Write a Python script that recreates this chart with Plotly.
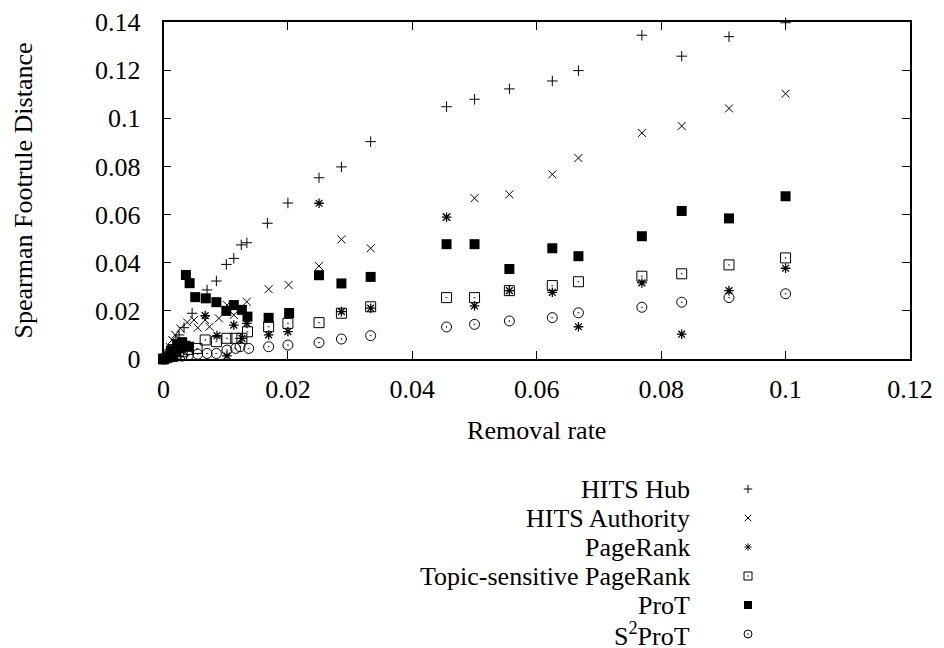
import plotly.graph_objects as go

# ---------------- data ----------------
hub_x = [0, 0.0005, 0.001, 0.0015, 0.002, 0.0025, 0.0033, 0.0046, 0.007, 0.0085, 0.0101, 0.0113,
         0.0125, 0.0134, 0.0167, 0.02, 0.025, 0.0286, 0.0333, 0.0455, 0.05, 0.0556, 0.0625,
         0.0667, 0.0769, 0.0833, 0.0909, 0.1]
hub_y = [0, 0.002, 0.004, 0.006, 0.008, 0.010, 0.013, 0.019, 0.0287, 0.0324, 0.0393, 0.0418,
         0.0474, 0.0483, 0.0564, 0.0648, 0.0753, 0.0798, 0.0903, 0.1048, 0.1079, 0.1122, 0.1155,
         0.1198, 0.1345, 0.1258, 0.1339, 0.1397]

auth_x = [0, 0.0005, 0.001, 0.0014, 0.0019, 0.0027, 0.0038, 0.0049, 0.0055, 0.0067, 0.0074,
          0.0089, 0.0102, 0.0113, 0.0134, 0.0169, 0.0201, 0.025, 0.0286, 0.0333, 0.0455, 0.05,
          0.0556, 0.0625, 0.0667, 0.0769, 0.0833, 0.0909, 0.1]
auth_y = [0, 0.0025, 0.005, 0.0079, 0.010, 0.0127, 0.0152, 0.0162, 0.013, 0.0162, 0.0134,
          0.0169, 0.0224, 0.0183, 0.0238, 0.0290, 0.0308, 0.0386, 0.0497, 0.046, 0.059, 0.0668,
          0.0684, 0.0767, 0.0835, 0.0939, 0.0968, 0.1041, 0.1102]

pr_x = [0, 0.0005, 0.001, 0.002, 0.003, 0.004, 0.0067, 0.0086, 0.0102, 0.0113, 0.0126, 0.0134,
        0.0169, 0.02, 0.025, 0.0286, 0.0333, 0.0455, 0.05, 0.0556, 0.0625, 0.0667, 0.0769,
        0.0833, 0.0909, 0.1]
pr_y = [0, 0.001, 0.002, 0.004, 0.006, 0.005, 0.0180, 0.0097, 0.0013, 0.0141, 0.0086, 0.0148,
        0.0100, 0.0114, 0.0647, 0.0197, 0.0211, 0.0589, 0.0221, 0.0284, 0.0277, 0.0134, 0.0316,
        0.0103, 0.0284, 0.0377]

tspr_x = [0, 0.001, 0.002, 0.003, 0.004, 0.0054, 0.0067, 0.0085, 0.0102, 0.0116, 0.0126, 0.0135,
          0.0169, 0.02, 0.025, 0.0286, 0.0333, 0.0455, 0.05, 0.0556, 0.0625, 0.0667, 0.0769,
          0.0833, 0.0909, 0.1]
tspr_y = [0, 0.001, 0.002, 0.003, 0.004, 0.0044, 0.0079, 0.0072, 0.0086, 0.0086, 0.0086, 0.0113,
          0.0134, 0.0148, 0.0151, 0.019, 0.0217, 0.0255, 0.0255, 0.0284, 0.0305, 0.0321, 0.0344,
          0.0354, 0.0391, 0.042]

prot_x = [0, 0.0005, 0.001, 0.0012, 0.0015, 0.002, 0.0022, 0.0027, 0.003, 0.0035, 0.0041,
          0.0036, 0.0042, 0.0051, 0.0068, 0.0085, 0.0101, 0.0113, 0.0126, 0.0135, 0.0169,
          0.0202, 0.025, 0.0286, 0.0333, 0.0455, 0.05, 0.0556, 0.0625, 0.0667, 0.0769, 0.0833,
          0.0909, 0.1]
prot_y = [0, 0.0005, 0.001, 0.0035, 0.002, 0.003, 0.006, 0.0044, 0.007, 0.0055, 0.0051,
          0.0349, 0.0315, 0.0257, 0.0252, 0.0236, 0.0200, 0.0224, 0.0204, 0.0176, 0.0171,
          0.0191, 0.0348, 0.0314, 0.0341, 0.0477, 0.0477, 0.0374, 0.046, 0.0427, 0.051, 0.0615,
          0.0584, 0.0676]

s2_x = [0, 0.001, 0.002, 0.003, 0.004, 0.0055, 0.007, 0.0085, 0.0102, 0.0116, 0.0123, 0.0137,
        0.0169, 0.02, 0.025, 0.0286, 0.0333, 0.0455, 0.05, 0.0556, 0.0625, 0.0667, 0.0769,
        0.0833, 0.0909, 0.1]
s2_y = [0, 0.0005, 0.001, 0.0012, 0.0015, 0.002, 0.0023, 0.0023, 0.0037, 0.0044, 0.0051, 0.0044,
        0.0051, 0.0058, 0.0068, 0.0083, 0.0097, 0.0133, 0.0144, 0.0158, 0.0172, 0.0192, 0.0215,
        0.0236, 0.0255, 0.0271]

series_names = ["HITS Hub", "HITS Authority", "PageRank", "Topic-sensitive PageRank",
                "ProT", "S<sup>2</sup>ProT"]
x_ticks = [0, 0.02, 0.04, 0.06, 0.08, 0.1, 0.12]
y_ticks = [0, 0.02, 0.04, 0.06, 0.08, 0.1, 0.12, 0.14]

# ---------------- styling ----------------
W, H = 944, 648
FONT = "Liberation Serif"
FS = 26
PL, PR, PT, PB = 163.5, 910, 22, 359   # plot box in pixels

styles = [
    dict(symbol="cross-thin-open", size=7.5, line=dict(width=1, color="black"), color="black"),
    dict(symbol="x-thin-open", size=8, line=dict(width=1, color="black"), color="black"),
    dict(symbol="asterisk-open", size=8, line=dict(width=1.3, color="black"), color="black"),
    dict(symbol="square-open-dot", size=10, line=dict(width=1, color="black"), color="black"),
    dict(symbol="square", size=10, line=dict(width=0), color="black"),
    dict(symbol="circle-open-dot", size=10, line=dict(width=1, color="black"), color="black"),
]
legend_styles = [
    dict(symbol="cross-thin-open", size=6, line=dict(width=1, color="black"), color="black"),
    dict(symbol="x-thin-open", size=6.5, line=dict(width=1, color="black"), color="black"),
    dict(symbol="asterisk-open", size=6, line=dict(width=1, color="black"), color="black"),
    dict(symbol="square-open-dot", size=8, line=dict(width=1, color="black"), color="black"),
    dict(symbol="square", size=8, line=dict(width=0), color="black"),
    dict(symbol="circle-open-dot", size=8, line=dict(width=1, color="black"), color="black"),
]

data = [(hub_x, hub_y), (auth_x, auth_y), (pr_x, pr_y), (tspr_x, tspr_y),
        (prot_x, prot_y), (s2_x, s2_y)]

fig = go.Figure()
for (xs, ys), st, name in zip(data, styles, series_names):
    fig.add_trace(go.Scatter(x=xs, y=ys, mode="markers", marker=st, name=name,
                             showlegend=False, cliponaxis=False, xaxis="x", yaxis="y"))

# manual gnuplot-style key (text right-aligned, symbol to the right), on a pixel-space axis
KEY_TEXT_X = 692
KEY_SYM_X = 748
KEY_Y0 = 489
KEY_DY = 29.0
for i, (st, name) in enumerate(zip(legend_styles, series_names)):
    yy = KEY_Y0 + i * KEY_DY
    fig.add_trace(go.Scatter(x=[KEY_SYM_X], y=[yy], mode="markers", marker=st,
                             showlegend=False, cliponaxis=False, xaxis="x2", yaxis="y2",
                             hoverinfo="skip"))
    fig.add_annotation(x=KEY_TEXT_X, y=yy, xref="x2", yref="y2", text=name,
                       showarrow=False, xanchor="right", yanchor="middle",
                       font=dict(family=FONT, size=FS, color="black"))

axis_common = dict(showgrid=False, zeroline=False, showline=True, linecolor="black",
                   linewidth=1.5, mirror="ticks", ticks="inside", ticklen=8, tickwidth=1.2,
                   tickcolor="black", tickfont=dict(family=FONT, size=FS, color="black"),
                   automargin=False)

fig.update_layout(
    width=W, height=H,
    margin=dict(l=0, r=0, t=0, b=0),
    paper_bgcolor="white", plot_bgcolor="rgba(0,0,0,0)",
    showlegend=False,
    xaxis=dict(domain=[PL / W, PR / W], range=[0, 0.12], tickvals=x_ticks,
               ticktext=[f"{v:g}" for v in x_ticks], ticklabelstandoff=6,
               title=dict(text="Removal rate", font=dict(family=FONT, size=FS, color="black"),
                          standoff=18),
               anchor="y", **axis_common),
    yaxis=dict(domain=[1 - PB / H, 1 - PT / H], range=[0, 0.14], tickvals=y_ticks,
               ticktext=[f"{v:g}" for v in y_ticks], ticklabelstandoff=16,
               title=dict(text="Spearman Footrule Distance",
                          font=dict(family=FONT, size=FS, color="black"), standoff=55),
               anchor="x", **axis_common),
    xaxis2=dict(domain=[0, 1], range=[0, W], visible=False, anchor="y2", fixedrange=True),
    yaxis2=dict(domain=[0, 1], range=[H, 0], visible=False, anchor="x2", fixedrange=True),
    font=dict(family=FONT, size=FS, color="black"),
)

fig.write_html("out.html")
